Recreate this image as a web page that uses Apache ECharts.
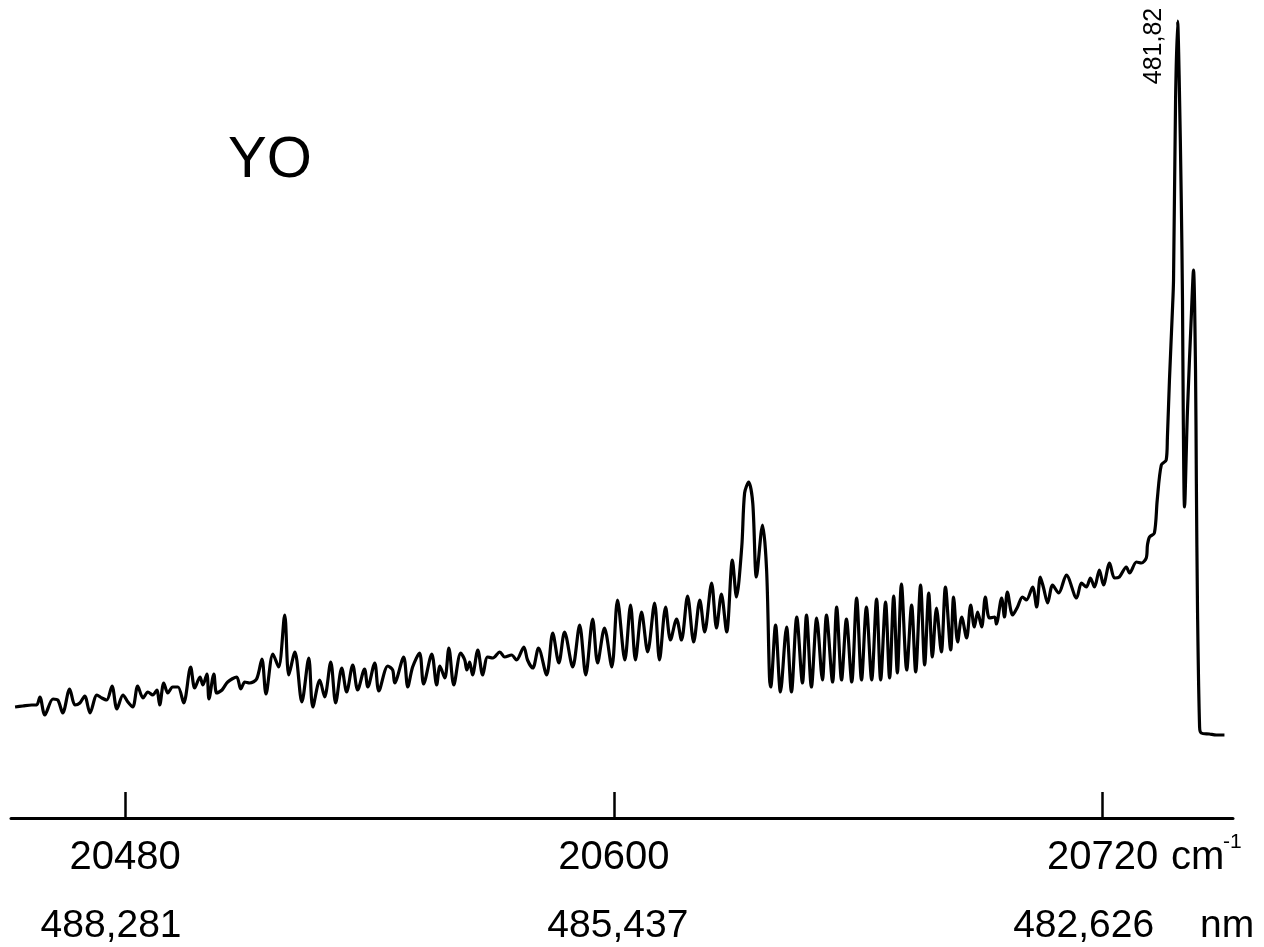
<!DOCTYPE html>
<html>
<head>
<meta charset="utf-8">
<script src="https://cdn.jsdelivr.net/npm/echarts@6/dist/echarts.min.js"></script>
<style>
html,body{margin:0;padding:0;background:#fff;}
#chart{width:1264px;height:947px;}
</style>
</head>
<body>
<div id="chart"></div>
<script>
// wavenumber (cm^-1) of each sampled point of the trace
const waveNumber = [
20453.0,20454.9,20457.1,20458.3,20459.1,20460.3,20462.3,20463.5,20464.7,20466.4,
20467.7,20468.9,20470.1,20471.4,20473.1,20474.3,20475.5,20476.8,20478.0,20479.5,
20480.7,20481.9,20483.1,20484.4,20485.6,20486.8,20487.8,20488.5,20489.5,20490.5,
20491.7,20493.0,20494.4,20496.1,20497.1,20498.4,20499.1,20500.1,20500.6,20501.8,
20502.5,20503.8,20505.2,20507.4,20508.4,20509.4,20510.6,20512.3,20513.6,20514.6,
20516.3,20517.7,20519.2,20520.2,20521.7,20523.4,20525.1,20526.1,20527.8,20529.0,
20530.5,20531.7,20533.2,20534.4,20535.9,20537.1,20538.8,20539.6,20541.3,20542.3,
20544.5,20545.7,20546.2,20548.4,20549.4,20550.6,20552.3,20553.3,20555.3,20556.5,
20557.3,20558.5,20559.5,20560.7,20562.4,20563.4,20563.9,20564.6,20565.3,20566.6,
20567.8,20569.0,20570.3,20572.0,20573.2,20574.9,20576.1,20577.9,20578.8,20580.1,
20581.5,20583.5,20585.0,20586.5,20587.9,20589.9,20591.6,20593.1,20594.8,20596.0,
20597.7,20599.5,20600.9,20602.7,20604.1,20605.3,20606.8,20608.3,20610.0,20611.2,
20612.7,20613.9,20615.4,20616.6,20618.1,20619.6,20621.1,20622.3,20624.0,20625.2,
20626.4,20627.7,20629.1,20630.1,20631.4,20632.1,20633.1,20634.1,20635.0,20636.5,
20637.5,20638.2,20638.5,20639.7,20640.9,20642.4,20643.6,20644.9,20646.3,20647.3,
20648.5,20649.8,20651.2,20652.2,20653.7,20654.7,20655.9,20657.1,20658.4,20659.6,
20660.8,20662.0,20663.3,20664.5,20665.5,20666.7,20667.7,20668.7,20669.6,20670.6,
20671.9,20673.1,20674.1,20675.3,20676.3,20677.3,20678.2,20679.2,20680.4,20681.4,
20682.7,20683.4,20684.4,20685.4,20686.6,20687.6,20688.5,20689.3,20690.3,20691.2,
20692.2,20693.5,20693.9,20695.2,20695.9,20696.6,20697.9,20699.1,20700.3,20701.3,
20702.8,20703.8,20704.7,20705.5,20706.5,20707.7,20709.2,20711.1,20713.6,20714.8,
20716.0,20717.0,20718.0,20719.2,20720.2,20721.7,20722.9,20724.1,20725.8,20726.6,
20728.3,20729.5,20730.7,20731.0,20731.5,20732.7,20733.4,20734.4,20735.6,20735.9,
20736.4,20737.1,20737.4,20737.9,20738.4,20738.8,20739.3,20739.6,20739.8,20740.1,
20740.8,20741.8,20742.3,20742.8,20743.0,20743.3,20743.8,20744.2,20746.2,20747.9,
20749.9
];
// recorder intensity (arbitrary units, height above the axis)
const intensity = [
111,112,113,113,121,103,119,118,105,129,
113,115,122,105,123,120,118,132,109,123,
116,111,132,120,126,123,128,113,135,125,
131,131,115,151,130,141,133,144,119,144,
125,128,136,141,129,136,135,139,159,124,
164,151,203,143,166,116,160,111,138,121,
156,115,150,126,153,128,149,131,155,127,
152,148,135,161,131,151,165,134,164,133,
152,140,170,133,165,158,148,156,143,168,
143,161,160,166,161,163,158,171,158,150,
170,143,185,155,186,151,193,143,199,155,
190,151,218,158,213,158,206,166,215,158,
211,178,199,178,222,176,218,186,235,190,
224,186,258,221,271,325,336,315,241,293,
248,141,131,193,126,191,126,201,135,203,
131,200,138,203,136,211,138,199,136,220,
138,211,138,219,138,216,140,222,145,234,
148,213,146,233,153,225,161,210,166,231,
168,221,176,201,180,213,191,206,191,221,
200,201,194,220,201,226,203,211,221,218,
231,211,241,230,215,233,225,243,220,235,
231,240,231,248,233,255,240,241,251,245,
256,255,260,273,281,285,318,353,358,381,
438,505,538,718,797,738,618,518,398,311,
405,505,548,448,338,205,91,85,84,83,
83
];
// axis ticks and their labels
const tickValues = [20480, 20600, 20720];
const tickLabelsCm = ['20480', '20600', '20720'];
const tickLabelsNm = ['488,281', '485,437', '482,626'];
const title = 'YO';
const peakLabel = '481,82';

const seriesData = waveNumber.map((w, i) => [w, intensity[i]]);

const chart = echarts.init(document.getElementById('chart'), null, {renderer: 'canvas'});
const FONT = '"Liberation Sans", Arial, sans-serif';
const nmStyle = (pad) => ({fontSize: 39, lineHeight: 92, color: '#000', fontFamily: FONT, padding: pad});
chart.setOption({
  backgroundColor: '#ffffff',
  animation: false,
  grid: {left: 11, right: 31, top: 0, bottom: 129, containLabel: false, outerBoundsMode: 'none'},
  xAxis: {
    type: 'value',
    min: 20452,
    max: 20752,
    splitLine: {show: false},
    axisLine: {show: true, lineStyle: {color: '#000', width: 3}},
    axisTick: {show: true, inside: true, length: 26, customValues: tickValues,
      lineStyle: {color: '#000', width: 2.5}},
    axisLabel: {
      show: true,
      customValues: tickValues,
      margin: 18,
      formatter: function (v) {
        const i = tickValues.indexOf(Math.round(v));
        if (i < 0) return '';
        return '{a|' + tickLabelsCm[i] + '}\n{b' + i + '|' + tickLabelsNm[i] + '}';
      },
      rich: {
        a: {fontSize: 40, lineHeight: 44, color: '#000', fontFamily: FONT},
        b0: nmStyle([0, 28, 0, 0]),
        b1: nmStyle([0, 0, 0, 8]),
        b2: nmStyle([0, 38, 0, 0])
      }
    }
  },
  yAxis: {
    type: 'value', min: 0, max: 818, show: false
  },
  series: [{
    type: 'line',
    data: seriesData,
    showSymbol: false,
    smooth: 0.3,
    clip: false,
    lineStyle: {color: '#000', width: 3.2, join: 'round'}
  }],
  graphic: [
    {type: 'text', left: 228, top: 132,
      style: {text: title, fontSize: 58, fontFamily: FONT, fill: '#000'}},
    {type: 'text', x: 1154, y: 46, rotation: Math.PI / 2,
      style: {text: peakLabel, fontSize: 25, fontFamily: FONT, fill: '#000',
        align: 'center', verticalAlign: 'middle'}},
    {type: 'text', x: 1171, y: 858,
      style: {text: 'cm', fontSize: 40, fontFamily: FONT, fill: '#000', verticalAlign: 'middle'}},
    {type: 'text', x: 1223, y: 842,
      style: {text: '-1', fontSize: 21, fontFamily: FONT, fill: '#000', verticalAlign: 'middle'}},
    {type: 'text', x: 1200, y: 926,
      style: {text: 'nm', fontSize: 39, fontFamily: FONT, fill: '#000', verticalAlign: 'middle'}}
  ]
});
</script>
</body>
</html>
